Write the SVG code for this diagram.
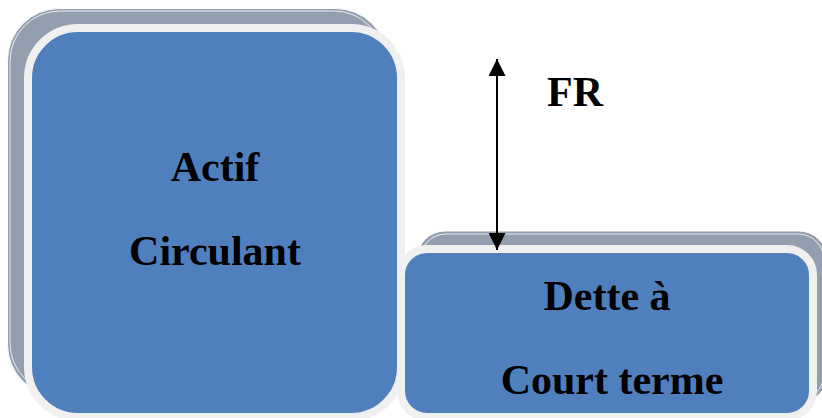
<svg xmlns="http://www.w3.org/2000/svg" width="822" height="418" viewBox="0 0 822 418">
<style>
.back{fill:#939fae;stroke:#ffffff;stroke-width:1}
.front{fill:#4f7fbd;stroke:#f0f0f0;stroke-width:8}
.lbl{font-family:"Liberation Serif",serif;font-weight:bold;font-size:42px;fill:#000;text-anchor:middle}
</style>
<defs>
<marker id="ah" viewBox="0 0 10 10" refX="10" refY="5" markerWidth="17" markerHeight="17" markerUnits="userSpaceOnUse" orient="auto-start-reverse">
<path d="M0,0 L10,5 L0,10 z" fill="#000"/>
</marker>
</defs>
<rect width="822" height="418" fill="#fff"/>
<g id="actif">
<rect class="back" x="7.5" y="8.5" width="380" height="388" rx="52"/>
<rect x="10" y="11" width="374" height="382" rx="50" fill="none" stroke="#fff" stroke-width="0.8"/>
<rect class="front" x="28" y="28" width="373" height="389" rx="50"/>
<text class="lbl" x="215" y="181">Actif</text>
<text class="lbl" x="215" y="265">Circulant</text>
</g>
<g id="dette">
<rect class="back" x="417" y="231" width="410" height="172" rx="28"/>
<rect x="420" y="234" width="404" height="166" rx="26" fill="none" stroke="#fff" stroke-width="0.8"/>
<rect class="front" x="401" y="249" width="412" height="168" rx="26"/>
<text class="lbl" x="607" y="310">Dette à</text>
<text class="lbl" x="612" y="394">Court terme</text>
</g>
<g id="connectors">
<line x1="497" y1="59" x2="497" y2="250" stroke="#000" stroke-width="2" marker-start="url(#ah)" marker-end="url(#ah)"/>
</g>
<g id="fr">
<text class="lbl" x="575" y="106">FR</text>
</g>
</svg>
